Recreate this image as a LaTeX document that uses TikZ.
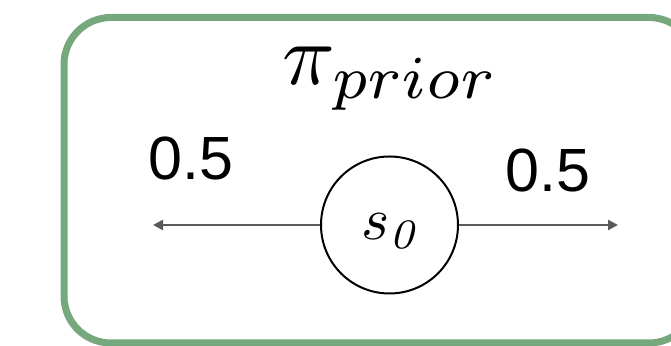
\documentclass[tikz,border=0pt]{standalone}
\usepackage{fontspec}
\newfontfamily\probfont{Liberation Sans}
\usetikzlibrary{arrows.meta,shadows}
\definecolor{boxgreen}{RGB}{117,168,124}
\definecolor{edgegray}{RGB}{90,90,90}

\begin{document}
\begin{tikzpicture}[x=0.5pt,y=-0.5pt,
  priorbox/.style={draw=boxgreen,line width=3.5pt,rounded corners=23.5pt,
                   fill=white,minimum width=316pt,minimum height=162.75pt,
                   drop shadow={shadow xshift=-1.5pt,shadow yshift=-1.5pt,
                                opacity=0.25}},
  state/.style={draw,circle,line width=1pt,minimum size=68.5pt,inner sep=0pt},
  prob/.style={font=\probfont\fontsize{30.5}{36}\selectfont,anchor=base},
  edge/.style={-{Triangle[length=5pt,width=5pt]},draw=edgegray,line width=1.2pt}
]
  \useasboundingbox (0,0) rectangle (671,346);
  \node[priorbox] (frame) at (380,180.25) {};
  \node[anchor=base,scale=4.35] (policy) at (391,85) {$\pi_{prior}$};
  \node[state] (s0) at (389.5,225) {};
  \node[anchor=base,scale=3] (s0label) at (390,240) {$s_{\mathit{0}}$};
  \coordinate (leftend) at (153,225);
  \coordinate (rightend) at (618,225);
  \draw[edge] (s0) -- (leftend);
  \draw[edge] (s0) -- (rightend);
  \node[prob] (pleft) at (191,180) {0.5};
  \node[prob] (pright) at (548,192) {0.5};
\end{tikzpicture}
\end{document}
